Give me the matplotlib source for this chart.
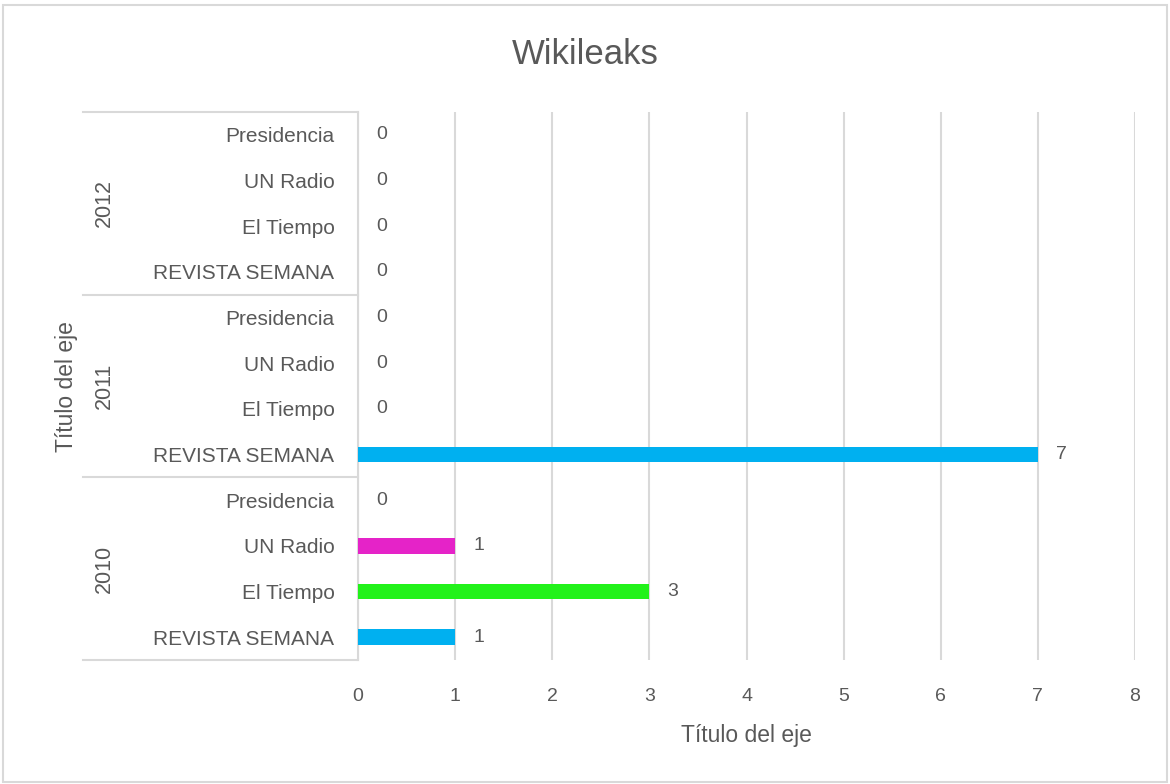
import matplotlib.pyplot as plt
import matplotlib.transforms as mtransforms
from matplotlib.patches import Rectangle

# Datos
anios = ['2010', '2011', '2012']
medios = ['REVISTA SEMANA', 'El Tiempo', 'UN Radio', 'Presidencia']
valores_2010 = [1, 3, 1, 0]
valores_2011 = [7, 0, 0, 0]
valores_2012 = [0, 0, 0, 0]
colores_medios = ['#00B0F0', '#22F21A', '#E523C8', '#F0A030']

gris = '#595959'
plt.rcParams['font.family'] = ['Liberation Sans', 'DejaVu Sans']

fig = plt.figure(figsize=(11.7, 7.84), dpi=100)
ax = fig.add_axes([358 / 1170, 1 - 660 / 784, (1135 - 358) / 1170, (660 - 112) / 784])

todos = [valores_2010, valores_2011, valores_2012]
posiciones = []
etiquetas = []
for g, vals in enumerate(todos):
    for i, v in enumerate(vals):
        y = g * len(medios) + i
        posiciones.append(y)
        etiquetas.append(medios[i])
        ax.barh(y, v, height=0.34, color=colores_medios[i], zorder=3)
        ax.annotate(str(v), xy=(v, y), xytext=(13, 0), textcoords='offset points',
                    ha='left', va='center', fontsize=14, color=gris)

ax.set_xlim(0, 8)
ax.set_ylim(-0.5, len(posiciones) - 0.5)
ax.set_yticks(posiciones)
ax.set_yticklabels(etiquetas, fontsize=15, color=gris)
ax.set_xticks(range(0, 9))
ax.tick_params(axis='x', colors=gris, labelsize=14, length=0, pad=20)
ax.tick_params(axis='y', length=0, pad=17)

ax.grid(axis='x', color='#D9D9D9', linewidth=1.5, zorder=0)
for s in ['top', 'right', 'bottom']:
    ax.spines[s].set_visible(False)
ax.spines['left'].set_color('#D9D9D9')
ax.spines['left'].set_linewidth(1.5)

# lineas separadoras y etiquetas de grupo (anios)
trans = mtransforms.blended_transform_factory(ax.transAxes, ax.transData)
x_izq = (83 - 358) / (1135 - 358)
x_anio = (104 - 358) / (1135 - 358)
for g in range(len(anios) + 1):
    yb = g * len(medios) - 0.5
    ax.plot([x_izq, 0], [yb, yb], transform=trans, color='#D9D9D9',
            linewidth=1.5, clip_on=False)
for g, anio in enumerate(anios):
    yc = g * len(medios) + (len(medios) - 1) / 2
    ax.text(x_anio, yc, anio, transform=trans, rotation=90, ha='center',
            va='center', fontsize=15.5, color=gris)

ax.set_xlabel('Título del eje', fontsize=16.5, color=gris, labelpad=14)
fig.text(67 / 1170, 1 - 387 / 784, 'Título del eje', rotation=90, ha='center',
         va='center', fontsize=16.5, color=gris)
fig.text(0.5, 1 - 55 / 784, 'Wikileaks', ha='center', va='center',
         fontsize=25, color=gris)

fig.patches.append(Rectangle((3 / 1170, 2 / 784), 1164 / 1170, 777 / 784,
                             transform=fig.transFigure, fill=False,
                             edgecolor='#D9D9D9', linewidth=1.5))

plt.savefig('out.png', dpi=100)
